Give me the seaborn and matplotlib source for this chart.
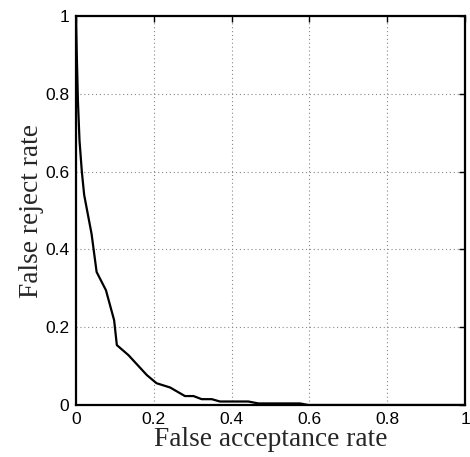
import numpy as np
import pandas as pd
import seaborn as sns
import matplotlib
matplotlib.use("Agg")
import matplotlib.pyplot as plt

# ROC-like curve: false acceptance vs false reject
far = [0.0, 0.002, 0.005, 0.009, 0.015, 0.021, 0.040, 0.053, 0.077, 0.098, 0.105,
       0.135, 0.182, 0.207, 0.242, 0.280, 0.302, 0.323, 0.349, 0.370, 0.443,
       0.469, 0.576, 0.597, 1.0]
frr = [1.0, 0.90, 0.78, 0.68, 0.60, 0.54, 0.44, 0.342, 0.295, 0.218, 0.154,
       0.128, 0.077, 0.056, 0.045, 0.023, 0.023, 0.015, 0.015, 0.009, 0.009,
       0.004, 0.004, 0.0, 0.0]
ticks = [0, 0.2, 0.4, 0.6, 0.8, 1]
tick_labels = ["0", "0.2", "0.4", "0.6", "0.8", "1"]

df = pd.DataFrame({"far": far, "frr": frr})

sns.set_style("white")
plt.rcParams['font.family'] = ['Liberation Sans', 'DejaVu Sans']

fig = plt.figure(figsize=(4.70, 4.57), dpi=100)
ax = fig.add_axes([76 / 470, 1 - 405 / 457, 389 / 470, 389 / 457])

sns.lineplot(data=df, x="far", y="frr", sort=False, color="black", linewidth=1.6, ax=ax)

ax.set_xlim(0, 1)
ax.set_ylim(0, 1)
ax.set_xticks(ticks)
ax.set_yticks(ticks)
ax.set_xticklabels(tick_labels)
ax.set_yticklabels(tick_labels)
ax.grid(True, color="#888888", linestyle=(0, (1, 2.5)), linewidth=0.8)
ax.tick_params(direction="in", length=4, width=1, top=True, right=True,
               labelsize=12.5, pad=5, colors="black")
for s in ax.spines.values():
    s.set_linewidth(1.6)
    s.set_color("black")

ax.set_xlabel("False acceptance rate", family=["Liberation Serif"], fontsize=19.7, labelpad=0)
ax.set_ylabel("False reject rate", family=["Liberation Serif"], fontsize=19.7, labelpad=1)

fig.savefig("out.png", dpi=100)
